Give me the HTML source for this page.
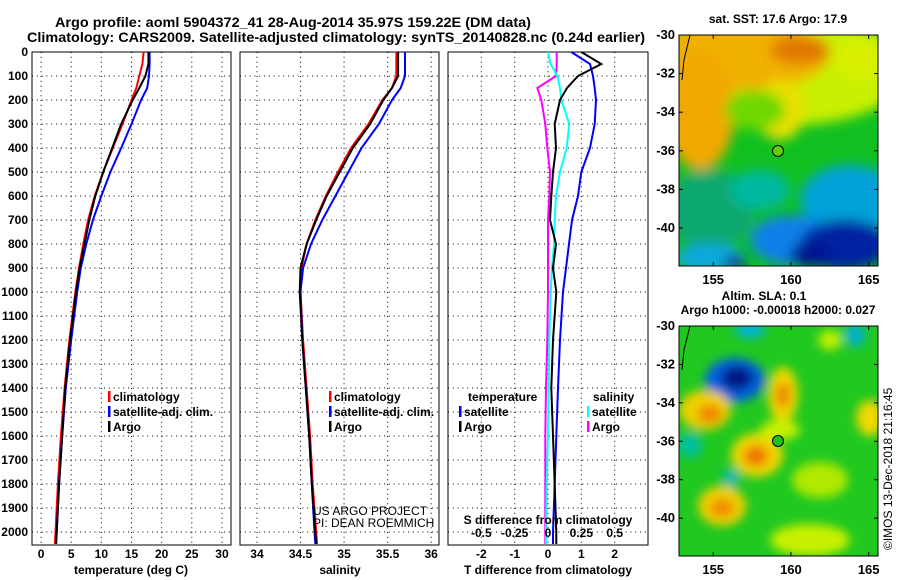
<!DOCTYPE html>
<html><head><meta charset="utf-8"><style>
body{margin:0;background:#fff}
svg{display:block;font-family:"Liberation Sans",sans-serif;font-weight:bold;font-size:12px}
</style></head><body>
<svg id="fig" width="900" height="580" viewBox="0 0 900 580">
<defs>
<filter id="blur" x="-20%" y="-20%" width="140%" height="140%"><feGaussianBlur stdDeviation="5"/></filter>
<filter id="blur2" x="-20%" y="-20%" width="140%" height="140%"><feGaussianBlur stdDeviation="6"/></filter>
<clipPath id="c1"><rect x="679" y="35" width="199" height="231"/></clipPath>
<clipPath id="c2"><rect x="679" y="326" width="199" height="230"/></clipPath>
</defs>
<text x="55" y="27" font-size="14" textLength="476" lengthAdjust="spacingAndGlyphs">Argo profile: aoml 5904372_41 28-Aug-2014 35.97S 159.22E (DM data)</text>
<text x="27" y="42" font-size="14" textLength="618" lengthAdjust="spacingAndGlyphs">Climatology: CARS2009. Satellite-adjusted climatology: synTS_20140828.nc (0.24d earlier)</text>
<g id="panels"></g>
<g clip-path="url(#c1)">
<rect x="679" y="35" width="199" height="231" fill="#10c020"/>
<g filter="url(#blur2)">
<ellipse cx="790" cy="70" rx="120" ry="55" fill="#c8f000"/>
<ellipse cx="740" cy="55" rx="90" ry="35" fill="#f0b000"/>
<ellipse cx="700" cy="110" rx="35" ry="60" fill="#f0a800"/>
<ellipse cx="800" cy="50" rx="30" ry="14" fill="#e07800"/>
<ellipse cx="780" cy="110" rx="25" ry="30" fill="#e8e000"/>
<ellipse cx="755" cy="110" rx="30" ry="20" fill="#70d800"/>
<ellipse cx="860" cy="60" rx="25" ry="20" fill="#d8f000"/>
<ellipse cx="710" cy="210" rx="45" ry="40" fill="#10a870"/>
<ellipse cx="760" cy="190" rx="30" ry="20" fill="#00b8a0"/>
<ellipse cx="850" cy="200" rx="50" ry="35" fill="#00a0d8"/>
<ellipse cx="790" cy="240" rx="40" ry="25" fill="#1080e8"/>
<ellipse cx="710" cy="258" rx="35" ry="14" fill="#10a8e0"/>
<ellipse cx="845" cy="245" rx="45" ry="25" fill="#0020a0"/>
<ellipse cx="810" cy="255" rx="20" ry="12" fill="#001890"/>
<ellipse cx="735" cy="262" rx="12" ry="6" fill="#0820a0"/>
</g>
<path d="M690 35 L684 60 L682 80" fill="none" stroke="#000" stroke-width="1"/>
<circle cx="778" cy="151" r="5.5" fill="#60d000" stroke="#000" stroke-width="1"/>
</g>
<rect x="679" y="35" width="199" height="231" fill="none" stroke="#000"/>
<text x="778" y="23" text-anchor="middle">sat. SST: 17.6 Argo: 17.9</text>
<g clip-path="url(#c2)">
<rect x="679" y="326" width="199" height="230" fill="#20c820"/>
<g filter="url(#blur)">
<ellipse cx="735" cy="380" rx="30" ry="22" fill="#0060e0"/>
<ellipse cx="737" cy="378" rx="16" ry="12" fill="#001880"/>
<ellipse cx="750" cy="330" rx="15" ry="8" fill="#00b0e0"/>
<ellipse cx="855" cy="335" rx="10" ry="12" fill="#00b0d0"/>
<ellipse cx="705" cy="410" rx="26" ry="20" fill="#f0d000"/>
<ellipse cx="710" cy="414" rx="12" ry="9" fill="#f08000"/>
<ellipse cx="783" cy="395" rx="15" ry="28" fill="#f0d800"/>
<ellipse cx="783" cy="395" rx="7" ry="13" fill="#f08000"/>
<ellipse cx="757" cy="455" rx="26" ry="22" fill="#f0d800"/>
<ellipse cx="756" cy="456" rx="13" ry="11" fill="#f07800"/>
<ellipse cx="722" cy="506" rx="24" ry="20" fill="#f0d000"/>
<ellipse cx="722" cy="508" rx="12" ry="9" fill="#f08800"/>
<ellipse cx="870" cy="418" rx="14" ry="18" fill="#f0d800"/>
<ellipse cx="690" cy="445" rx="12" ry="13" fill="#00c0a0"/>
<ellipse cx="731" cy="478" rx="9" ry="9" fill="#00b8b0"/>
<ellipse cx="820" cy="480" rx="28" ry="18" fill="#b0e800"/>
<ellipse cx="810" cy="540" rx="40" ry="16" fill="#c8f000"/>
<ellipse cx="830" cy="340" rx="12" ry="10" fill="#c0f000"/>
<ellipse cx="780" cy="430" rx="20" ry="10" fill="#c8f000"/>
</g>
<path d="M690 326 L684 350 L682 370" fill="none" stroke="#000" stroke-width="1"/>
<circle cx="778" cy="441" r="5.5" fill="#20c020" stroke="#000" stroke-width="1"/>
</g>
<rect x="679" y="326" width="199" height="230" fill="none" stroke="#000"/>
<text x="764" y="300" text-anchor="middle">Altim. SLA: 0.1</text>
<text x="778" y="314" text-anchor="middle">Argo h1000: -0.00018 h2000: 0.027</text>
<text transform="translate(892,550) rotate(-90)" font-weight="normal" font-size="12">©IMOS 13-Dec-2018 21:16:45</text>
<g id="maxes"></g>
</svg>
<script>
const depths = [0,50,100,150,200,300,400,500,600,700,800,900,1000,1200,1400,1600,1800,2000,2050];
const tArgo  = [17.8,17.8,17.3,16.3,15.2,13.3,11.8,10.3,9.0,8.0,7.2,6.4,5.8,4.8,4.0,3.5,3.0,2.6,2.5];
const tClim  = [17.0,16.8,16.3,15.8,15.0,13.5,11.9,10.3,8.9,7.8,7.0,6.3,5.7,4.7,3.9,3.3,2.8,2.4,2.3];
const tSat   = [18.0,18.0,17.9,17.6,16.6,15.0,13.3,11.5,10.0,8.6,7.5,6.6,6.0,5.0,4.1,3.5,3.0,2.6,2.5];
const sArgo  = [35.62,35.62,35.62,35.55,35.45,35.30,35.10,34.95,34.80,34.68,34.57,34.50,34.49,34.52,34.56,34.60,34.63,34.67,34.68];
const sClim  = [35.60,35.60,35.60,35.55,35.44,35.28,35.08,34.93,34.79,34.67,34.57,34.51,34.50,34.53,34.57,34.61,34.64,34.68,34.69];
const sSat   = [35.70,35.70,35.70,35.65,35.55,35.40,35.20,35.05,34.90,34.75,34.62,34.53,34.50,34.52,34.56,34.60,34.63,34.66,34.67];
const dT_argo = [1.0,1.6,0.9,0.57,0.36,0.2,0.24,0.15,0.1,0.06,0.24,0.15,0.25,0.15,0.1,0.15,0.2,0.25,0.25];
const dT_sat  = [0.7,1.26,1.35,1.4,1.44,1.4,1.26,1.0,0.9,0.72,0.63,0.54,0.45,0.36,0.3,0.25,0.2,0.15,0.15];
const dS_sat  = [0,0.02,0.07,0.09,0.1,0.16,0.14,0.09,0.06,0.05,0.045,0.03,0.02,0.01,0.005,0.0,-0.01,-0.015,-0.015];
const dS_argo = [0.065,0.065,0.06,-0.08,-0.05,-0.02,-0.005,0.015,0.01,0.0,0.0,0.0,0.0,-0.005,-0.015,-0.02,-0.02,-0.02,-0.02];
const depthTicks = [0,100,200,300,400,500,600,700,800,900,1000,1100,1200,1300,1400,1500,1600,1700,1800,1900,2000];
const tTicks = [0,5,10,15,20,25,30];
const sTicks = [34,34.5,35,35.5,36];
const dTTicks = [-2,-1,0,1,2];
const dSTicks = [-0.5,-0.25,0,0.25,0.5];
const dSTickLabels = ['-0.5','-0.25','0','0.25','0.5'];
const lonTicks = [155,160,165];
const latTicks = [-30,-32,-34,-36,-38,-40];

const NS='http://www.w3.org/2000/svg';
const P=document.getElementById('panels');
function mk(tag,attrs,parent){const e=document.createElementNS(NS,tag);for(const k in attrs)e.setAttribute(k,attrs[k]);(parent||P).appendChild(e);return e;}
const yTop=52,yBot=545;
const yD=d=>yTop+d*0.24;
function linX(a,b,x0,x1){return v=>x0+(v-a)/(b-a)*(x1-x0);}
const panels=[
 {x0:32,x1:231,sx:linX(-1.5,31.5,32,231),ticks:tTicks,name:'temperature'},
 {x0:240,x1:439,sx:linX(33.805,36.09,240,439),ticks:sTicks,name:'salinity'},
 {x0:448,x1:648,sx:linX(-3,3,448,648),ticks:dTTicks,name:'t-diff'}];
function txt(x,y,s,attrs,name,parent){const t=mk('text',Object.assign({x:x,y:y},attrs||{}),parent);t.textContent=s;
 
 return t;}
panels.forEach(p=>{
 const g=mk('g',{});
 
 
 depthTicks.forEach(d=>{const l=mk('line',{x1:p.x0,x2:p.x1,y1:yD(d),y2:yD(d),stroke:'#000','stroke-dasharray':'1 3.8'},g);
  
  });
 p.ticks.forEach(v=>{const x=p.sx(v);const l=mk('line',{x1:x,x2:x,y1:yTop,y2:yBot,stroke:'#000','stroke-dasharray':'1 3.8'},g);
  
  
  txt(x,558,String(v),{'text-anchor':'middle'},'x-tick-label');});
 const r=mk('rect',{x:p.x0,y:yTop,width:p.x1-p.x0,height:yBot-yTop,fill:'none',stroke:'#000'},g);
 
 
});
depthTicks.forEach(d=>txt(28,yD(d)+4,String(d),{'text-anchor':'end'},'y-tick-label'));
function line(sx,vals,color,w,name){
 const pts=vals.map((v,i)=>sx(v).toFixed(1)+','+yD(depths[i]).toFixed(1)).join(' ');
 const e=mk('polyline',{points:pts,fill:'none',stroke:color,'stroke-width':w});
 
 }
const sxT=panels[0].sx,sxS=panels[1].sx,sxD=panels[2].sx;
const sxDS=linX(-0.75,0.75,448,648);
line(sxT,tClim,'#f00',2,'temp-climatology-line');
line(sxT,tSat,'#00f',2,'temp-satellite-line');
line(sxT,tArgo,'#000',2,'temp-argo-line');
line(sxS,sClim,'#f00',2,'sal-climatology-line');
line(sxS,sSat,'#00f',2,'sal-satellite-line');
line(sxS,sArgo,'#000',2,'sal-argo-line');
line(sxDS,dS_argo,'#f0f',2,'sdiff-argo-line');
line(sxDS,dS_sat,'#0ff',2,'sdiff-satellite-line');
line(sxD,dT_sat,'#00f',2,'tdiff-satellite-line');
line(sxD,dT_argo,'#000',2,'tdiff-argo-line');
function leg(x,y,color,label,name){const r=mk('rect',{x:x,y:y-10,width:2.5,height:11,fill:color});
 
 
 txt(x+5,y,label,{},name+'-label');}
[[108,'t'],[329,'s']].forEach(([x,k])=>{
 leg(x,401,'#f00','climatology',k+'-legend-climatology');
 leg(x,416,'#00f','satellite-adj. clim.',k+'-legend-satellite');
 leg(x,431,'#000','Argo',k+'-legend-argo');});
txt(468,401,'temperature',{},'tdiff-legend-title');
leg(459,416,'#00f','satellite','tdiff-legend-satellite');
leg(459,431,'#000','Argo','tdiff-legend-argo');
txt(593,401,'salinity',{},'sdiff-legend-title');
leg(587,416,'#0ff','satellite','sdiff-legend-satellite');
leg(587,431,'#f0f','Argo','sdiff-legend-argo');
txt(548,524,'S difference from climatology',{'text-anchor':'middle'},'s-diff-axis-title');
dSTicks.forEach((v,i)=>txt(sxDS(v),537,dSTickLabels[i],{'text-anchor':'middle'},'s-diff-tick-label'));
txt(313,515,'US ARGO PROJECT',{'font-weight':'normal'},'credit-project');
txt(313,527,'PI: DEAN ROEMMICH',{'font-weight':'normal'},'credit-pi');
txt(131,574,'temperature (deg C)',{'text-anchor':'middle'},'temperature-axis-title');
txt(340,574,'salinity',{'text-anchor':'middle'},'salinity-axis-title');
txt(548,574,'T difference from climatology',{'text-anchor':'middle'},'t-diff-axis-title');
const M=document.getElementById('maxes');
[[35,266,284],[326,556,574]].forEach(([y0,y1,ly])=>{
 const lonX=linX(152.8,165.6,679,878), latY=linX(-30,-40,y0,y0+(y1-y0)*10/11.97);
 lonTicks.forEach(v=>{const x=lonX(v);mk('line',{x1:x,x2:x,y1:y1,y2:y1-4,stroke:'#000'},M);mk('line',{x1:x,x2:x,y1:y0,y2:y0+4,stroke:'#000'},M);
  txt(x,ly,String(v),{'text-anchor':'middle','font-size':'13'},'map-lon-tick-label',M);});
 latTicks.forEach(v=>{const y=latY(v);mk('line',{x1:679,x2:683,y1:y,y2:y,stroke:'#000'},M);mk('line',{x1:878,x2:874,y1:y,y2:y,stroke:'#000'},M);
  txt(675,y+4,String(v),{'text-anchor':'end','font-size':'13'},'map-lat-tick-label',M);});
});
</script>
</body></html>
